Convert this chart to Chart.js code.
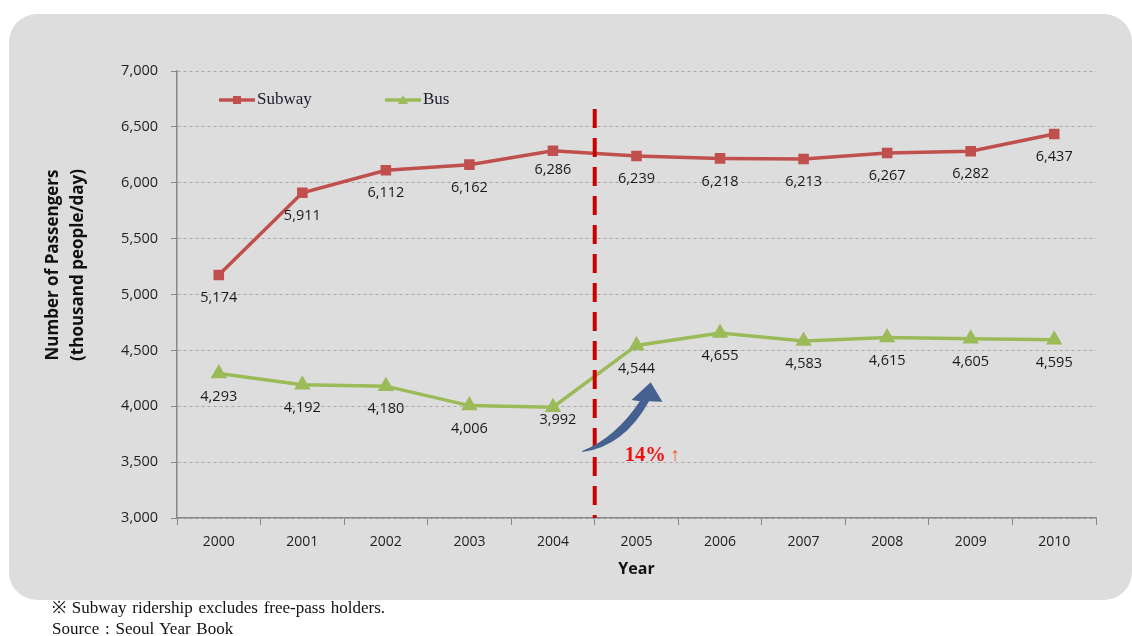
<!DOCTYPE html>
<html><head><meta charset="utf-8">
<script src="https://cdn.jsdelivr.net/npm/chart.js@4"></script>
<style>
html,body{margin:0;padding:0;background:#fff;width:1132px;height:636px;overflow:hidden}
#panel{position:absolute;left:9px;top:14px;width:1123px;height:586px;background:#DDDDDD;border-radius:28px}
#wrap{position:absolute;left:9px;top:14px;width:1123px;height:586px}
.note{position:absolute;left:52px;font-family:"Liberation Serif","Times New Roman",serif;font-size:17px;word-spacing:1.5px;color:#111;white-space:nowrap;line-height:20px}
</style></head>
<body>
<div id="panel"></div>
<div id="wrap"><canvas id="c" width="1123" height="586"></canvas></div>
<div class="note" style="top:598px">※ Subway ridership excludes free-pass holders.</div>
<div class="note" style="top:619px">Source : Seoul Year Book</div>
<script>
const years = ['2000','2001','2002','2003','2004','2005','2006','2007','2008','2009','2010'];
const subway = [5174, 5911, 6112, 6162, 6286, 6239, 6218, 6213, 6267, 6282, 6437];
const bus = [4293, 4192, 4180, 4006, 3992, 4544, 4655, 4583, 4615, 4605, 4595];
const yMin = 3000, yMax = 7000, yStep = 500;
const seriesNames = ['Subway', 'Bus'];
const yTitle = ['Number of Passengers', '(thousand people/day)'];
const xTitle = 'Year';
const growthText = '14%';

const fmt = v => v.toLocaleString('en-US');

const labelPlugin = {
  id: 'labels',
  afterDraw(chart) {
    // y axis title (two lines, rotated)
    const ctx = chart.ctx;
    ctx.save();
    ctx.fillStyle = '#111';
    ctx.font = 'bold 17px "Open Sans", sans-serif';
    ctx.textAlign = 'center';
    ctx.textBaseline = 'middle';
    const cy = chart.scales.y.top + 194;
    [[44, yTitle[0]], [69, yTitle[1]]].forEach(([x, t]) => {
      ctx.save();
      ctx.translate(x, cy);
      ctx.rotate(-Math.PI / 2);
      ctx.fillText(t, 0, 0);
      ctx.restore();
    });
    ctx.restore();
  },
  afterDatasetsDraw(chart) {
    const ctx = chart.ctx;
    const xs = chart.scales.x, ys = chart.scales.y;
    const step = xs.getPixelForValue(1) - xs.getPixelForValue(0);
    // dashed policy line between 2004 and 2005
    const xb = (xs.getPixelForValue(4) + xs.getPixelForValue(5)) / 2;
    ctx.save();
    ctx.strokeStyle = '#CC0000';
    ctx.lineWidth = 4;
    ctx.setLineDash([19, 10]);
    ctx.beginPath();
    ctx.moveTo(xb, ys.getPixelForValue(6660));
    ctx.lineTo(xb, ys.bottom);
    ctx.stroke();
    ctx.restore();

    // data labels
    ctx.save();
    ctx.font = '14.5px "Open Sans", sans-serif';
    ctx.fillStyle = '#1a1a1a';
    ctx.textAlign = 'center';
    ctx.textBaseline = 'middle';
    const tweak = {'1-4': [5, -10], '0-4': [0, -4]};
    chart.data.datasets.forEach((ds, i) => {
      const meta = chart.getDatasetMeta(i);
      meta.data.forEach((pt, j) => {
        const t = tweak[i + '-' + j] || [0, 0];
        ctx.fillText(fmt(ds.data[j]), pt.x + t[0], pt.y + 23 + t[1]);
      });
    });
    ctx.restore();

    // growth arrow
    const P = (i, v) => [xs.getPixelForValue(0) + i * step, ys.getPixelForValue(v)];
    const tail = P(4.35, 3590);
    const c1 = P(4.85, 3640);
    const sR = P(5.15, 4045);
    const hR = P(5.31, 4040);
    const tip = P(5.17, 4215);
    const hL = P(4.94, 4055);
    const sL = P(5.04, 4045);
    const c2 = P(4.75, 3720);
    ctx.save();
    ctx.fillStyle = '#44618F';
    ctx.beginPath();
    ctx.moveTo(tail[0], tail[1]);
    ctx.quadraticCurveTo(c1[0], c1[1], sR[0], sR[1]);
    ctx.lineTo(hR[0], hR[1]);
    ctx.lineTo(tip[0], tip[1]);
    ctx.lineTo(hL[0], hL[1]);
    ctx.lineTo(sL[0], sL[1]);
    ctx.quadraticCurveTo(c2[0], c2[1], tail[0], tail[1] - 1);
    ctx.closePath();
    ctx.fill();

    const tp = P(4.86, 3555);
    ctx.textBaseline = 'middle';
    ctx.textAlign = 'left';
    ctx.font = 'bold 20.5px "Liberation Serif", serif';
    ctx.fillStyle = '#EE1111';
    ctx.fillText(growthText, tp[0], tp[1]);
    const w = ctx.measureText(growthText).width;
    ctx.font = '19px "Liberation Serif", serif';
    ctx.fillStyle = '#F06020';
    ctx.fillText(' ↑', tp[0] + w, tp[1]);
    ctx.restore();

    // legend
    ctx.save();
    const ly = ys.top + 29;
    const items = [
      {name: seriesNames[0], color: '#C0504D', style: 'rect', x: xs.left + 42},
      {name: seriesNames[1], color: '#9BBB59', style: 'triangle', x: xs.left + 208}
    ];
    items.forEach(it => {
      ctx.strokeStyle = it.color;
      ctx.lineWidth = 3.5;
      ctx.beginPath();
      ctx.moveTo(it.x, ly);
      ctx.lineTo(it.x + 36, ly);
      ctx.stroke();
      ctx.fillStyle = it.color;
      const cx = it.x + 18;
      if (it.style === 'rect') ctx.fillRect(cx - 4, ly - 4, 8, 8);
      else { ctx.beginPath(); ctx.moveTo(cx, ly - 5); ctx.lineTo(cx + 5, ly + 4); ctx.lineTo(cx - 5, ly + 4); ctx.closePath(); ctx.fill(); }
      ctx.fillStyle = '#1a1a2a';
      ctx.font = '17px "Liberation Serif", serif';
      ctx.textAlign = 'left';
      ctx.textBaseline = 'middle';
      ctx.fillText(it.name, it.x + 38, ly);
    });
    ctx.restore();
  }
};

new Chart(document.getElementById('c'), {
  type: 'line',
  data: {
    labels: years,
    datasets: [
      {label: seriesNames[0], data: subway, borderColor: '#C0504D', backgroundColor: '#C0504D', borderWidth: 3.5,
       pointStyle: 'rect', pointRadius: 5, pointHoverRadius: 5, tension: 0},
      {label: seriesNames[1], data: bus, borderColor: '#9BBB59', backgroundColor: '#9BBB59', borderWidth: 3.5,
       pointStyle: 'triangle', pointRadius: 6, pointHoverRadius: 6, tension: 0}
    ]
  },
  options: {
    responsive: false,
    animation: false,
    devicePixelRatio: 1,
    layout: {padding: {left: 32, right: 36, top: 57, bottom: 17}},
    plugins: {legend: {display: false}, tooltip: {enabled: false}},
    scales: {
      x: {
        offset: true,
        grid: {drawOnChartArea: false, drawTicks: true, tickLength: 7, tickColor: '#888', offset: true},
        border: {color: '#888', width: 1.5},
        ticks: {color: '#222', font: {family: '"Open Sans", sans-serif', size: 14}, padding: 9, maxRotation: 0},
        title: {display: true, text: xTitle, color: '#111', font: {family: '"Open Sans", sans-serif', size: 16, weight: 'bold'}, padding: {top: 8}},
        afterFit(s) { s.height = 65; }
      },
      y: {
        min: yMin, max: yMax,
        ticks: {stepSize: yStep, color: '#222', font: {family: '"Open Sans", sans-serif', size: 14.5}, padding: 13,
                callback: v => fmt(v)},
        grid: {color: '#A8A8A8', lineWidth: 1, tickLength: 6, tickColor: '#888', tickBorderDash: []},
        border: {color: '#888', width: 1.5, dash: [3, 3]},
        title: {display: false},
        afterFit(s) { s.width = 136; }
      }
    }
  },
  plugins: [labelPlugin]
});
</script>
</body></html>
